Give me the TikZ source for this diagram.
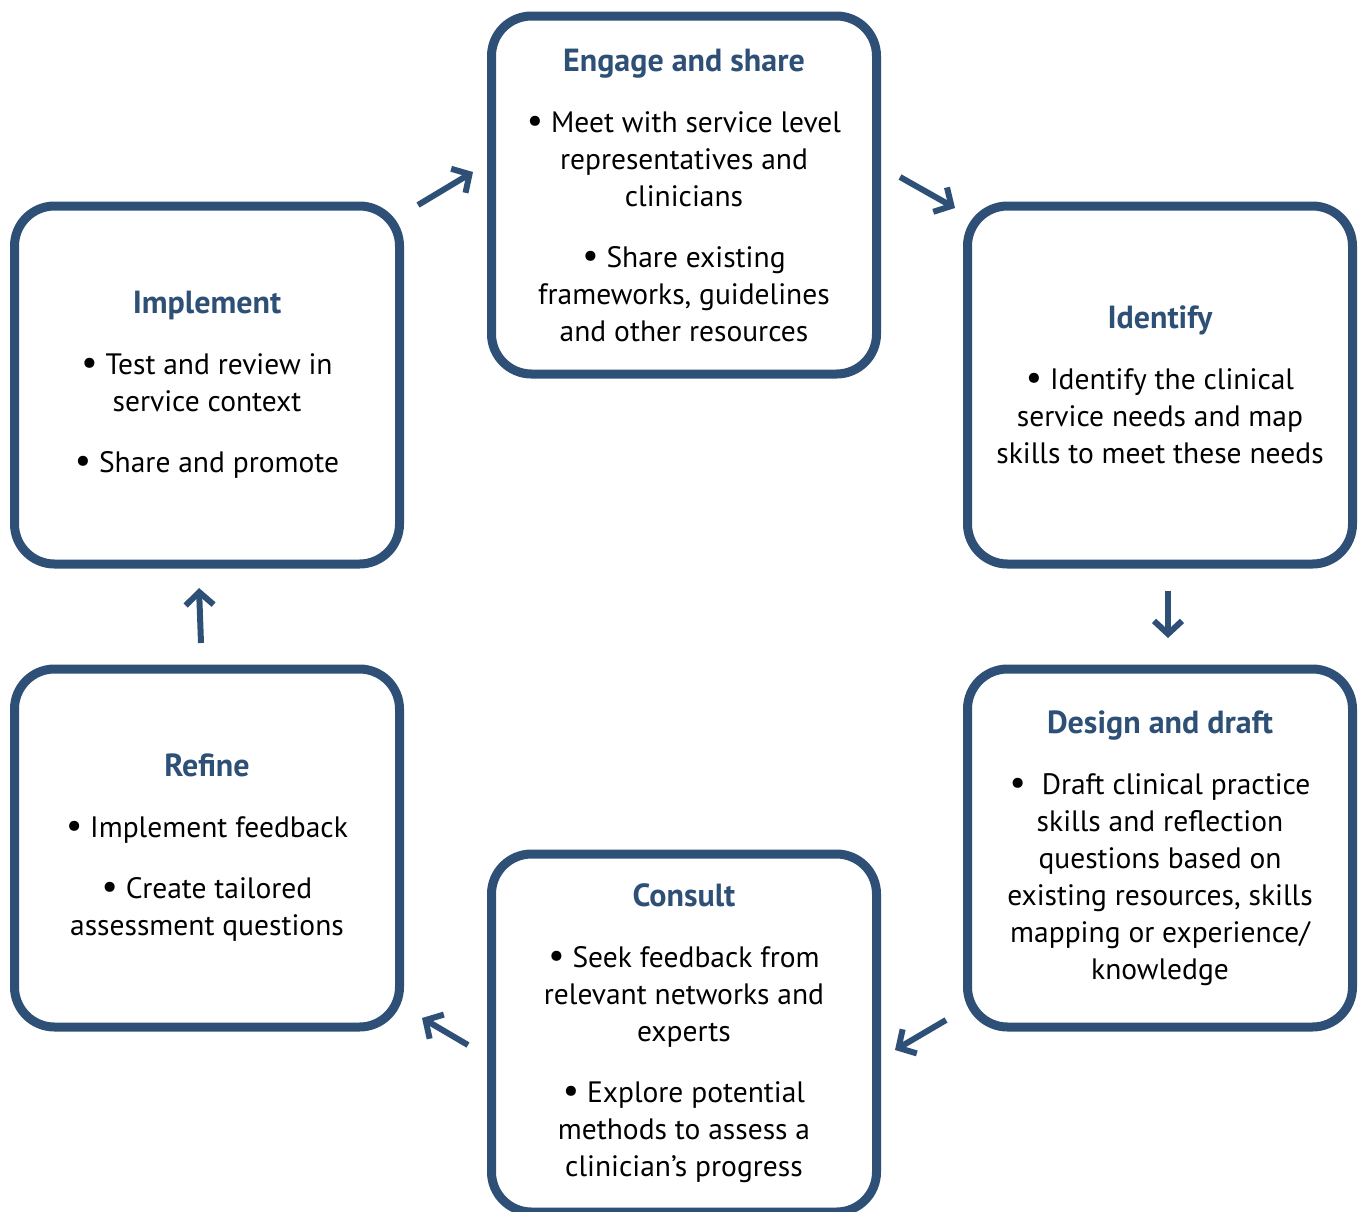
\documentclass[tikz,border=0pt]{standalone}
\usepackage{fontspec}
\setmainfont{PT Sans}
\usetikzlibrary{arrows.meta}
\definecolor{navy}{HTML}{2E5077}
\begin{document}
\begin{tikzpicture}[x=1pt,y=-1pt,
  stagebox/.style={draw=navy, line width=9pt, rounded corners=40pt,
    minimum width=385pt, minimum height=358pt, inner sep=0pt,
    align=center, font=\fontsize{29.5}{37}\selectfont, text=black},
  flow/.style={draw=navy, line width=6pt,
    -{Straight Barb[length=13pt,width=28pt]}}
]
\newcommand{\stagetitle}[1]{\textcolor{navy}{\fontsize{32}{37}\selectfont\bfseries #1}}
\newcommand{\bul}{{\fontsize{36}{37}\selectfont•}}
\useasboundingbox (0,0) rectangle (1365,1211);

% process stages
\node[stagebox] (engage) at (684,195) {\stagetitle{Engage and share}\\[24pt]
  \bul\ Meet with service level\\ representatives and\\ clinicians\\[24pt]
  \bul\ Share existing\\ frameworks, guidelines\\ and other resources};
\node[stagebox] (identify) at (1160,385) {\stagetitle{Identify}\\[24pt]
  \bul\ Identify the clinical\\ service needs and map\\ skills to meet these needs};
\node[stagebox] (design) at (1160,848) {\stagetitle{Design and draft}\\[24pt]
  \bul\ \ Draft clinical practice\\ skills and reflection\\ questions based on\\
  existing resources, skills\\ mapping or experience/\\ knowledge};
\node[stagebox] (consult) at (684,1033) {\stagetitle{Consult}\\[24pt]
  \bul\ Seek feedback from\\ relevant networks and\\ experts\\[24pt]
  \bul\ Explore potential\\ methods to assess a\\ clinician’s progress};
\node[stagebox] (refine) at (207,848) {\stagetitle{Refine}\\[24pt]
  \bul\ Implement feedback\\[24pt]
  \bul\ Create tailored\\ assessment questions};
\node[stagebox] (implement) at (207,385) {\stagetitle{Implement}\\[24pt]
  \bul\ Test and review in\\ service context\\[24pt]
  \bul\ Share and promote};

% arrow ends between neighbouring stages
\coordinate (impl-out) at (418,205);   \coordinate (eng-in) at (473,172);
\coordinate (eng-out) at (900,177);    \coordinate (ident-in) at (955,208);
\coordinate (ident-out) at (1168,591); \coordinate (des-in) at (1168,638);
\coordinate (des-out) at (946,1020);   \coordinate (cons-in) at (895,1050);
\coordinate (cons-out) at (468,1045);  \coordinate (ref-in) at (422,1018);
\coordinate (ref-out) at (201,643);    \coordinate (impl-in) at (199,588);

\draw[flow] (impl-out) -- (eng-in);
\draw[flow] (eng-out) -- (ident-in);
\draw[flow] (ident-out) -- (des-in);
\draw[flow] (des-out) -- (cons-in);
\draw[flow] (cons-out) -- (ref-in);
\draw[flow] (ref-out) -- (impl-in);
\end{tikzpicture}
\end{document}
